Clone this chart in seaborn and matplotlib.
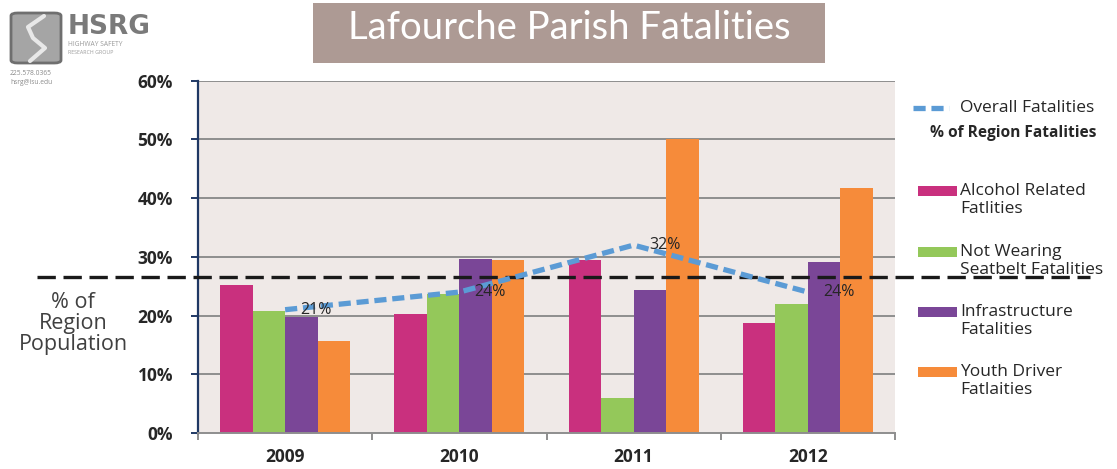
import numpy as np
import pandas as pd
import matplotlib
matplotlib.use('Agg')
import matplotlib.pyplot as plt
import seaborn as sns
from matplotlib.patches import Rectangle, FancyBboxPatch
from matplotlib.lines import Line2D

# -------------------------------------------------------
# DATA
# -------------------------------------------------------
years = ['2009', '2010', '2011', '2012']
series = ['Alcohol Related\nFatlities',
          'Not Wearing\nSeatbelt Fatalities',
          'Infrastructure\nFatalities',
          'Youth Driver\nFatlaities']
alcohol = [25.2, 20.2, 29.4, 18.7]
seatbelt = [20.7, 23.6, 5.9, 21.9]
infrastructure = [19.7, 29.6, 24.3, 29.2]
youth = [15.6, 29.4, 50.0, 41.7]
overall = [21, 24, 32, 24]
overall_labels = ['21%', '24%', '32%', '24%']
region_population = 26.6
yticks = [0, 10, 20, 30, 40, 50, 60]

colors = ['#C9307E', '#94C85A', '#7A4697', '#F68B3A']

df = pd.DataFrame({
    'year': np.repeat(years, 4),
    'series': series * len(years),
    'value': np.ravel(np.column_stack([alcohol, seatbelt, infrastructure, youth])),
})

# -------------------------------------------------------
# FIGURE
# -------------------------------------------------------
sns.set_theme(style='white')
plt.rcParams['font.family'] = ['Open Sans', 'DejaVu Sans']

W, H = 1117, 469
fig = plt.figure(figsize=(W / 100, H / 100), dpi=100)
fig.patch.set_facecolor('white')


def fx(px):
    return px / W


def fy(py):
    return 1 - py / H


ax = fig.add_axes([fx(198), fy(433), fx(895) - fx(198), fy(80.7) - fy(433)])
ax.set_facecolor('#EFE9E7')

sns.barplot(data=df, x='year', y='value', hue='series', order=years,
            hue_order=series, palette=colors, width=0.745, gap=0,
            saturation=1, legend=False, ax=ax)
for p in ax.patches:
    p.set_edgecolor('none')

ax.set_xlim(-0.5, 3.5)
ax.set_ylim(0, 60)
ax.set_xlabel('')
ax.set_ylabel('')

# gridlines
ax.set_yticks(yticks)
ax.set_yticklabels([f'{t}%' for t in yticks], fontsize=12.5, fontweight='bold',
                   color='#262626')
for t in yticks[1:]:
    ax.axhline(t, color='#8E8E8E', lw=1.4, zorder=0.5)

# region population reference line
ax.axhline(region_population, xmin=-0.231, xmax=1.28, clip_on=False,
           color='#1A1A1A', lw=2.4, dashes=(5.5, 2.3), zorder=4)

# overall fatalities line
xpos = np.arange(len(years))
ax.plot(xpos, overall, color='#5B9BD5', lw=3.8, dashes=(2.3, 1.1),
        zorder=5, solid_capstyle='butt')
for x, v, lab in zip(xpos, overall, overall_labels):
    ax.annotate(lab, (x, v), xytext=(11, 0), textcoords='offset points',
                ha='left', va='center', fontsize=11.5, color='#262626',
                zorder=6)

# spines / ticks
for s in ['top', 'right']:
    ax.spines[s].set_visible(False)
ax.spines['left'].set_color('#1F3864')
ax.spines['left'].set_linewidth(1.6)
ax.spines['bottom'].set_color('#8E8E8E')
ax.spines['bottom'].set_linewidth(1.4)
ax.tick_params(axis='y', left=True, length=5, width=1.4, color='#1F3864',
               pad=13)
ax.set_xticks(xpos)
ax.set_xticklabels(years, fontsize=12.5, fontweight='bold', color='#262626')
ax.set_xticks([-0.5, 0.5, 1.5, 2.5, 3.5], minor=True)
ax.tick_params(axis='x', which='major', length=0, pad=11)
ax.tick_params(axis='x', which='minor', bottom=True, length=5, width=1.4,
               color='#8E8E8E')

# left annotation
fig.text(fx(73), fy(323), '% of\nRegion\nPopulation', ha='center',
         va='center', fontsize=15.5, color='#404040', linespacing=1.0)

# -------------------------------------------------------
# LEGEND
# -------------------------------------------------------
fig.add_artist(Line2D([fx(913), fx(949)], [fy(108), fy(108)],
                      color='#5B9BD5', lw=3.8, dashes=(2.3, 1.1)))
fig.text(fx(960), fy(108), 'Overall Fatalities', ha='left', va='center',
         fontsize=12.5, color='#262626')
fig.text(fx(930), fy(133), '% of Region Fatalities', ha='left', va='center',
         fontsize=11.2, fontweight='bold', color='#262626')

row_y = [191, 252, 312, 372]
for lab, col, ry in zip(series, colors, row_y):
    fig.add_artist(Rectangle((fx(918), fy(ry + 5)), fx(957) - fx(918),
                             fy(ry - 5) - fy(ry + 5), facecolor=col,
                             edgecolor='none', transform=fig.transFigure))
    fig.text(fx(960), fy(ry - 8), lab, ha='left', va='top', fontsize=12.5,
             color='#262626', linespacing=1.2)

# -------------------------------------------------------
# TITLE BOX
# -------------------------------------------------------
fig.add_artist(Rectangle((fx(313), fy(63)), fx(825) - fx(313),
                         fy(3) - fy(63), facecolor='#AD9A94',
                         edgecolor='none', transform=fig.transFigure))
fig.text(fx(569), fy(39), 'Lafourche Parish Fatalities', ha='center',
         va='baseline', fontsize=27.5, color='white',
         family=['Lato', 'DejaVu Sans'])

# -------------------------------------------------------
# LOGO
# -------------------------------------------------------
fig.add_artist(FancyBboxPatch((fx(11), fy(63)), fx(61) - fx(11),
                              fy(13) - fy(63),
                              boxstyle='round,pad=0,rounding_size=0.006',
                              facecolor='#A5A5A5', edgecolor='#6F6F6F',
                              lw=2, transform=fig.transFigure))
fig.add_artist(Line2D([fx(44), fx(28), fx(33), fx(45), fx(30)],
                      [fy(16), fy(27), fy(38), fy(48), fy(61)],
                      color='#E8E8E8', lw=3, solid_joinstyle='round'))
fig.text(fx(68), fy(34), 'HSRG', ha='left', va='baseline', fontsize=19,
         fontweight='bold', color='#7A7A7A', family=['DejaVu Sans'])
fig.text(fx(68), fy(46), 'HIGHWAY SAFETY', ha='left', va='baseline',
         fontsize=4.8, color='#9A9A9A')
fig.text(fx(68), fy(54), 'RESEARCH GROUP', ha='left', va='baseline',
         fontsize=3.8, color='#9A9A9A')
fig.text(fx(10), fy(75), '225.578.0365', ha='left', va='baseline',
         fontsize=4.8, color='#8A8A8A')
fig.text(fx(10), fy(84), 'hsrg@lsu.edu', ha='left', va='baseline',
         fontsize=4.8, color='#8A8A8A')

fig.savefig('out.png', dpi=100)
